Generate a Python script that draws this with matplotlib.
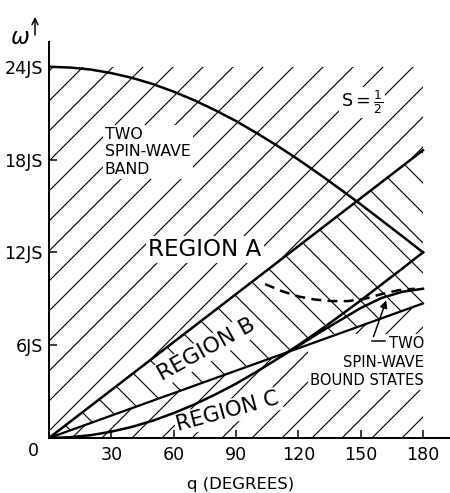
import matplotlib.pyplot as plt

# two spin-wave band edges
q_band = [0, 10, 20, 30, 40, 50, 60, 70, 80, 90, 100, 110, 120, 130, 140, 150, 160, 170, 180]
band_top = [24.0, 23.95, 23.82, 23.59, 23.28, 22.88, 22.39, 21.83, 21.19, 20.49,
            19.71, 18.88, 18.0, 17.07, 16.10, 15.11, 14.08, 13.05, 12.0]
band_bottom = [0.0, 0.05, 0.18, 0.41, 0.72, 1.12, 1.61, 2.17, 2.81, 3.51,
               4.29, 5.12, 6.0, 6.93, 7.90, 8.89, 9.92, 10.95, 12.0]

# straight boundaries of region B
q_line = [0, 180]
line_ab = [0, 18.6]
line_bc = [0, 8.7]

# bound states
q_bound = [112, 120, 130, 140, 150, 160, 170, 180]
bound_solid = [5.3, 5.95, 6.8, 7.6, 8.4, 9.05, 9.45, 9.65]
q_dash = [104, 112, 120, 128, 136, 144, 152, 160, 168, 176]
bound_dash = [9.95, 9.5, 9.15, 8.95, 8.85, 8.85, 9.0, 9.3, 9.55, 9.65]

y_ticks = [6, 12, 18, 24]
y_labels = ['6JS', '12JS', '18JS', '24JS']
x_ticks = [30, 60, 90, 120, 150, 180]

plt.rcParams['font.family'] = 'DejaVu Sans'
plt.rcParams['hatch.linewidth'] = 0.45

fig = plt.figure(figsize=(450 / 180, 493 / 180), dpi=180)
ax = fig.add_axes([49 / 450, 55 / 493, 401 / 450, 396 / 493])

# hatching: "/" over the whole band picture, "\" inside region B
ax.fill_between([0, 180], [0, 0], [24, 24], facecolor='none', edgecolor='black',
                hatch='//', linewidth=0, zorder=1)
ax.fill_between(q_line, line_bc, line_ab, facecolor='white', edgecolor='black',
                hatch='\\\\', linewidth=0, zorder=2)

lw = 1.0
ax.plot(q_band, band_top, color='black', lw=lw, zorder=3)
ax.plot(q_band, band_bottom, color='black', lw=lw, zorder=3)
ax.plot(q_line, line_ab, color='black', lw=lw, zorder=3)
ax.plot(q_line, line_bc, color='black', lw=lw * 0.9, zorder=3)
ax.plot(q_bound, bound_solid, color='black', lw=lw, zorder=3)
ax.plot(q_dash, bound_dash, color='black', lw=lw, ls=(0, (4, 2.5)), zorder=3)

ax.set_xlim(0, 193)
ax.set_ylim(0, 25.6)
ax.spines['top'].set_visible(False)
ax.spines['right'].set_visible(False)
ax.spines['left'].set_linewidth(0.8)
ax.spines['bottom'].set_linewidth(0.8)
ax.set_xticks(x_ticks)
ax.set_yticks(y_ticks)
ax.set_yticklabels(y_labels)
ax.tick_params(direction='in', length=3.2, width=0.6, labelsize=7)
ax.tick_params(axis='y', pad=2.4)
ax.tick_params(axis='x', pad=3.0)

# labels (white boxes break the hatching like in the drawing)
box = dict(facecolor='white', edgecolor='none', pad=0.8)
ax.text(26.9, 20.1, 'TWO\nSPIN-WAVE\nBAND', fontsize=6.3, ha='left', va='top',
        linespacing=1.2, bbox=box, zorder=2.5)
ax.text(150.6, 21.7, r'S$=\mathregular{\frac{1}{2}}$', fontsize=7, ha='center', va='center',
        bbox=box, zorder=2.5)
ax.text(75.1, 12.16, 'REGION A', fontsize=9.2, ha='center', va='center', bbox=box, zorder=2.5)
ax.text(76, 5.7, 'REGION B', fontsize=8.8, ha='center', va='center', rotation=29,
        bbox=box, zorder=2.5)
ax.text(86.1, 1.7, 'REGION C', fontsize=8.5, ha='center', va='center', rotation=15,
        bbox=box, zorder=2.5)
ax.text(180.5, 6.6, 'TWO\nSPIN-WAVE\nBOUND STATES', fontsize=5.9, ha='right', va='top',
        multialignment='right', linespacing=1.3, bbox=box, zorder=2.5)
ax.plot([155.4, 161.7], [6.25, 6.25], color='black', lw=0.6, zorder=3)
ax.annotate('', xy=(163.1, 9.2), xytext=(155.4, 6.25),
            arrowprops=dict(arrowstyle='-|>', lw=0.6, color='black', mutation_scale=6), zorder=3)

fig.text(241 / 450, 1 - 484 / 493, 'q (DEGREES)', fontsize=6.6, ha='center', va='center')
fig.text(33 / 450, 1 - 451 / 493, '0', fontsize=7, ha='center', va='center')
fig.text(20 / 450, 1 - 37 / 493, r'$\omega$', fontsize=9, ha='center', va='center')
ax.annotate('', xy=(35 / 450, 1 - 12 / 493), xytext=(35 / 450, 1 - 40 / 493),
            xycoords='figure fraction', textcoords='figure fraction',
            arrowprops=dict(arrowstyle='->', lw=0.6, color='black', mutation_scale=6))

fig.savefig('out.png', dpi=180)
